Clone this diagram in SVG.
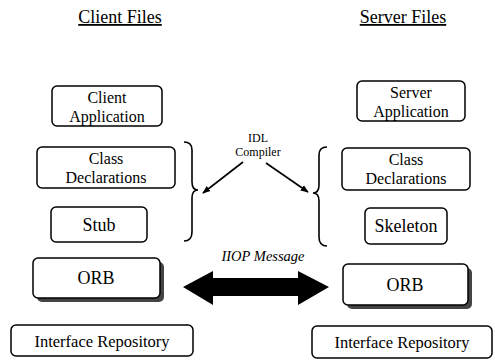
<svg xmlns="http://www.w3.org/2000/svg" width="495" height="361" viewBox="0 0 495 361">
<style>
text{font-family:"Liberation Serif","Times New Roman","DejaVu Serif",serif;fill:#000;text-anchor:middle}
.title{font-size:18px;text-decoration:underline}
.lbl{font-size:16px}
.big{font-size:18px}
.ir{font-size:16.5px}
.small{font-size:12px}
.box{fill:#fff;stroke:#000;stroke-width:1.5}
.shadow{fill:#444}
.line{fill:none;stroke:#000;stroke-width:1.6}
</style>
<defs>
<marker id="ah" viewBox="0 0 10 10" refX="9" refY="5" markerWidth="8" markerHeight="8" orient="auto" markerUnits="userSpaceOnUse">
<path d="M0,1 L10,5 L0,9 z" fill="#000"/>
</marker>
</defs>
<rect width="495" height="361" fill="#fff"/>
<g font-family="Liberation Serif, Times New Roman, serif">
<g id="title-client"><text class="title" x="120" y="23">Client Files</text></g>
<g id="title-server"><text class="title" x="403" y="23">Server Files</text></g>
<g id="client-app">
<rect class="box" x="52" y="86" width="110" height="40" rx="5"/>
<text class="lbl" x="107" y="103">Client</text>
<text class="lbl" x="107" y="122">Application</text>
</g>
<g id="server-app">
<rect class="box" x="357" y="81" width="108" height="40" rx="5"/>
<text class="lbl" x="411" y="98">Server</text>
<text class="lbl" x="411" y="117">Application</text>
</g>
<g id="client-class">
<rect class="box" x="37" y="147" width="138" height="41" rx="5"/>
<text class="lbl" x="106" y="164">Class</text>
<text class="lbl" x="106" y="183">Declarations</text>
</g>
<g id="server-class">
<rect class="box" x="342" y="148" width="128" height="42" rx="5"/>
<text class="lbl" x="406" y="165">Class</text>
<text class="lbl" x="406" y="184">Declarations</text>
</g>
<g id="stub">
<rect class="box" x="51" y="207" width="96" height="35" rx="5"/>
<text class="big" x="99" y="231">Stub</text>
</g>
<g id="skeleton">
<rect class="box" x="365" y="208" width="82" height="36" rx="5"/>
<text class="big" x="406" y="232">Skeleton</text>
</g>
<g id="idl-compiler">
<text class="small" x="258" y="142">IDL</text>
<text class="small" x="258" y="156">Compiler</text>
</g>
<g id="client-orb">
<rect class="shadow" x="37" y="262" width="127" height="40" rx="5"/>
<rect class="box" x="33" y="258" width="127" height="40" rx="5"/>
<text class="big" x="96" y="284">ORB</text>
</g>
<g id="server-orb">
<rect class="shadow" x="347" y="268" width="125" height="41" rx="5"/>
<rect class="box" x="343" y="264" width="125" height="41" rx="5"/>
<text class="big" x="405" y="291">ORB</text>
</g>
<g id="client-ir">
<rect class="box" x="11" y="325" width="182" height="31" rx="5"/>
<text class="ir" x="102" y="347">Interface Repository</text>
</g>
<g id="server-ir">
<rect class="box" x="312" y="326" width="180" height="32" rx="5"/>
<text class="ir" x="402" y="348">Interface Repository</text>
</g>
<g id="connectors">
<path class="line" d="M184,142 Q192,142 192,150 L192,182 Q192,190 198,190 Q192,190 192,198 L192,232 Q192,241 184,241"/>
<path class="line" d="M327,147 Q319,147 319,155 L319,185 Q319,193 313,193 Q319,193 319,201 L319,237 Q319,246 327,246"/>
<line class="line" x1="243" y1="162" x2="203" y2="193" marker-end="url(#ah)"/>
<line class="line" x1="266" y1="163" x2="308" y2="192" marker-end="url(#ah)"/>
<path d="M183,287 L213,271 L213,278 L298,278 L298,271 L329,287 L298,305 L298,296 L213,296 L213,305 z" fill="#000"/>
<text x="263" y="261" style="font-size:14.5px;font-style:italic">IIOP Message</text>
</g>
</g>
</svg>
